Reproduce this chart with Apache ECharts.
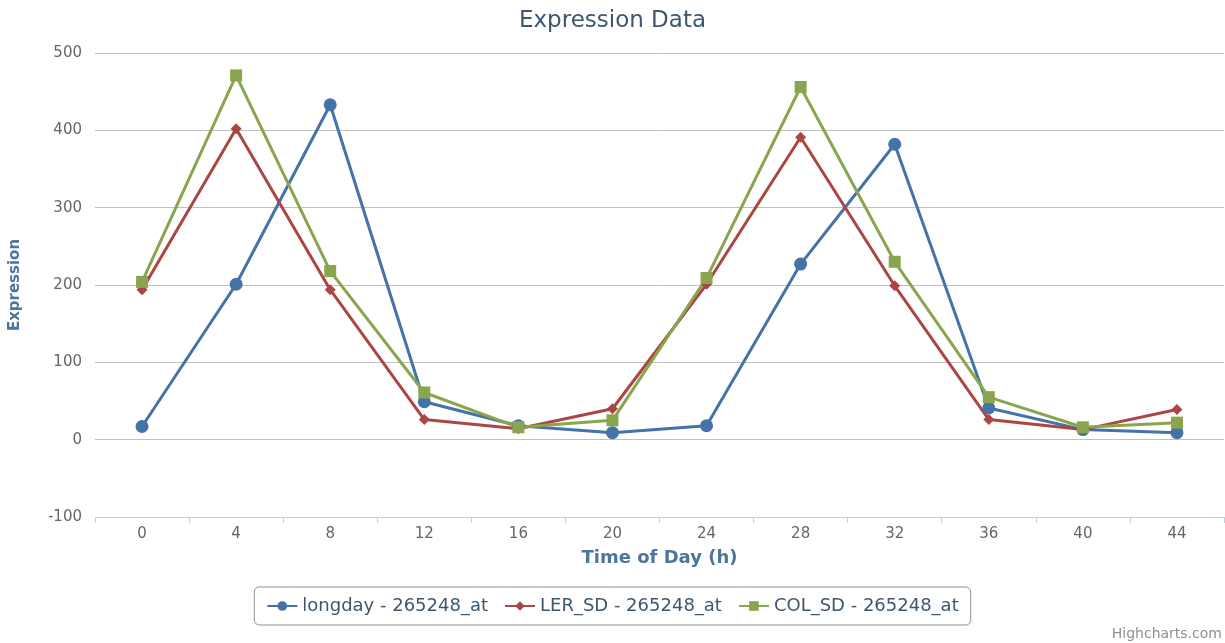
<!DOCTYPE html>
<html>
<head>
<meta charset="utf-8">
<script src="https://cdn.jsdelivr.net/npm/echarts@6/dist/echarts.min.js"></script>
<style>
html,body{margin:0;padding:0;background:#fff;}
#c{width:1225px;height:643px;}
</style>
</head>
<body>
<div id="c"></div>
<script>
const categories = ['0','4','8','12','16','20','24','28','32','36','40','44'];
const longday = [17, 201, 433, 49, 18, 9, 18, 227, 382, 41, 13, 9];
const lerSD = [194, 402, 194, 26, 14, 40, 201, 391, 199, 26, 13, 39];
const colSD = [204, 471, 218, 61, 16, 25, 209, 456, 230, 55, 16, 22];
const seriesNames = ['longday - 265248_at', 'LER_SD - 265248_at', 'COL_SD - 265248_at'];
const yTicks = {min: -100, max: 500, interval: 100};

const font = '"DejaVu Sans", "Liberation Sans", sans-serif';
const chart = echarts.init(document.getElementById('c'), null, {renderer: 'canvas'});
const colors = ['#4572A7', '#AA4643', '#89A54E'];
function mk(name, data, symbol, size, color) {
  return {
    name: name, type: 'line', data: data,
    symbol: symbol, symbolSize: size,
    lineStyle: {width: 3, color: color},
    itemStyle: {color: color},
    emphasis: {disabled: true},
    animation: false
  };
}
chart.setOption({
  animation: false,
  color: colors,
  textStyle: {fontFamily: font},
  title: {
    text: 'Expression Data', left: 'center', top: 5,
    textStyle: {color: '#3E576F', fontSize: 23, fontWeight: 'normal', fontFamily: font}
  },
  grid: {left: 94, right: 1, top: 53, bottom: 126, containLabel: false},
  xAxis: {
    type: 'category', data: categories, boundaryGap: true,
    name: 'Time of Day (h)', nameLocation: 'middle', nameGap: 32,
    nameTextStyle: {color: '#4D759E', fontWeight: 'bold', fontSize: 18, fontFamily: font},
    axisLine: {onZero: false, lineStyle: {color: '#C0D0E0', width: 1}},
    axisTick: {show: true, length: 6, alignWithLabel: false, lineStyle: {color: '#C0D0E0'}},
    axisLabel: {color: '#666666', fontSize: 15, margin: 10, fontFamily: font},
    splitLine: {show: false}
  },
  yAxis: {
    type: 'value', min: yTicks.min, max: yTicks.max, interval: yTicks.interval,
    name: 'Expression', nameLocation: 'middle', nameGap: 72, nameRotate: 90,
    nameTextStyle: {color: '#4D759E', fontWeight: 'bold', fontSize: 15, fontFamily: font},
    axisLine: {show: false}, axisTick: {show: false},
    axisLabel: {color: '#666666', fontSize: 15, margin: 13, fontFamily: font},
    splitLine: {lineStyle: {color: '#C0C0C0', width: 1}}
  },
  legend: {
    bottom: 18, left: 'center',
    data: seriesNames,
    borderColor: '#909090', borderWidth: 1, borderRadius: 5,
    padding: [10, 12, 10, 12], itemGap: 16, itemWidth: 30, itemHeight: 12,
    textStyle: {color: '#3E576F', fontSize: 18, fontFamily: font}
  },
  graphic: [{
    type: 'text', right: 3, bottom: 2,
    style: {text: 'Highcharts.com', fill: '#909090', fontSize: 14, fontFamily: font}
  }],
  series: [
    mk(seriesNames[0], longday, 'circle', 13, colors[0]),
    mk(seriesNames[1], lerSD, 'diamond', 11, colors[1]),
    mk(seriesNames[2], colSD, 'rect', 12, colors[2])
  ]
});
</script>
</body>
</html>
